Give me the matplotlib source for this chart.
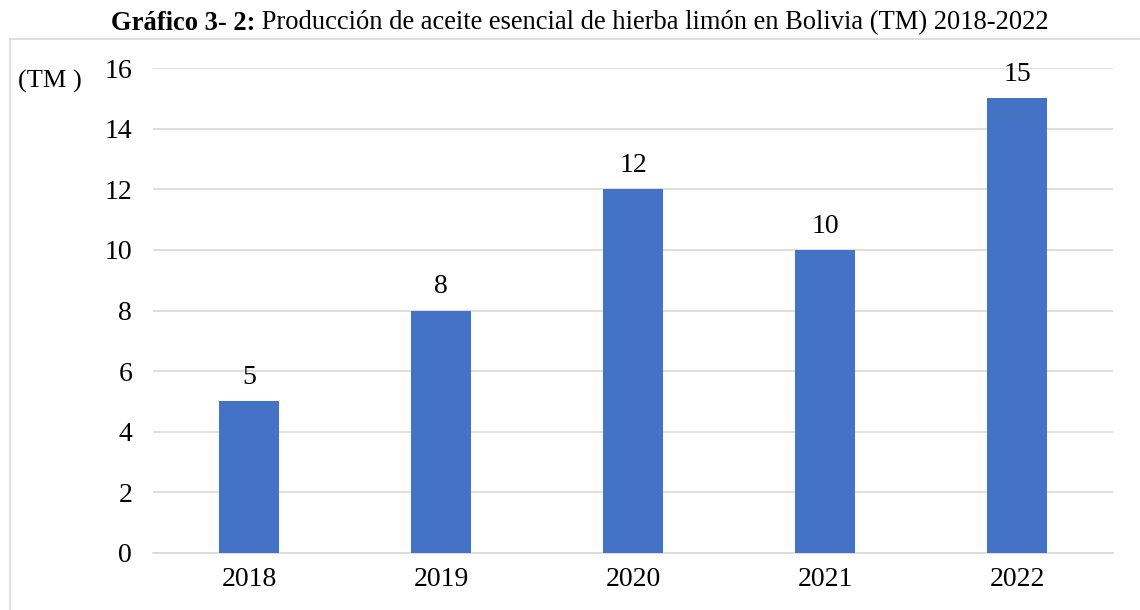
import matplotlib
matplotlib.use("Agg")
import matplotlib.pyplot as plt
from matplotlib.lines import Line2D

years = ["2018", "2019", "2020", "2021", "2022"]
production = [5, 8, 12, 10, 15]
yticks = [0, 2, 4, 6, 8, 10, 12, 14, 16]

plt.rcParams['font.family'] = ['Liberation Serif', 'DejaVu Serif']

W, H = 1140, 610
fig = plt.figure(figsize=(W/100, H/100), dpi=100)

# outer frame (top and left border)
fig.add_artist(Line2D([10/W, 10/W], [0, 1 - 38.5/H], transform=fig.transFigure, color='#d9d9d9', lw=1.2))
fig.add_artist(Line2D([10/W, 1], [1 - 38.5/H, 1 - 38.5/H], transform=fig.transFigure, color='#d9d9d9', lw=1.2))

left, right, top, bottom = 153, 1113, 68, 553
ax = fig.add_axes([left/W, 1 - bottom/H, (right-left)/W, (bottom-top)/H])
x = range(len(years))
ax.bar(x, production, width=0.3125, color='#4472c4', zorder=3)
ax.set_xlim(-0.5, len(years) - 0.5)
ax.set_ylim(0, 16)
ax.set_yticks(yticks)
ax.set_xticks(list(x))
ax.set_xticklabels(years)
ax.yaxis.grid(True, color='#d9d9d9', lw=1.2, zorder=0)
for s in ['top', 'right', 'left']:
    ax.spines[s].set_visible(False)
ax.spines['bottom'].set_color('#d9d9d9')
ax.spines['bottom'].set_linewidth(1.2)
ax.tick_params(axis='both', length=0, labelsize=20, colors='black')
ax.tick_params(axis='y', pad=15)
ax.tick_params(axis='x', pad=10)
for xi, v in zip(x, production):
    ax.annotate(str(v), (xi, v), xytext=(0, 8), textcoords='offset points',
                ha='center', va='bottom', fontsize=20)

fig.text(18/W, 1 - 81/H, "(TM )", fontsize=19, ha='left', va='center')

t1 = "Gráfico 3- 2:"
t2 = " Producción de aceite esencial de hierba limón en Bolivia (TM) 2018-2022"
fig.canvas.draw()
r = fig.canvas.get_renderer()
a = fig.text(0, 1 - 23/H, t1, fontsize=19.1, fontweight='bold', va='center', ha='left')
b = fig.text(0, 1 - 23/H, t2, fontsize=19.1, va='center', ha='left')
wa = a.get_window_extent(r).width
wb = b.get_window_extent(r).width
start = 580 - (wa + wb) / 2
a.set_x(start / W)
b.set_x((start + wa) / W)

fig.savefig("out.png", dpi=100)
